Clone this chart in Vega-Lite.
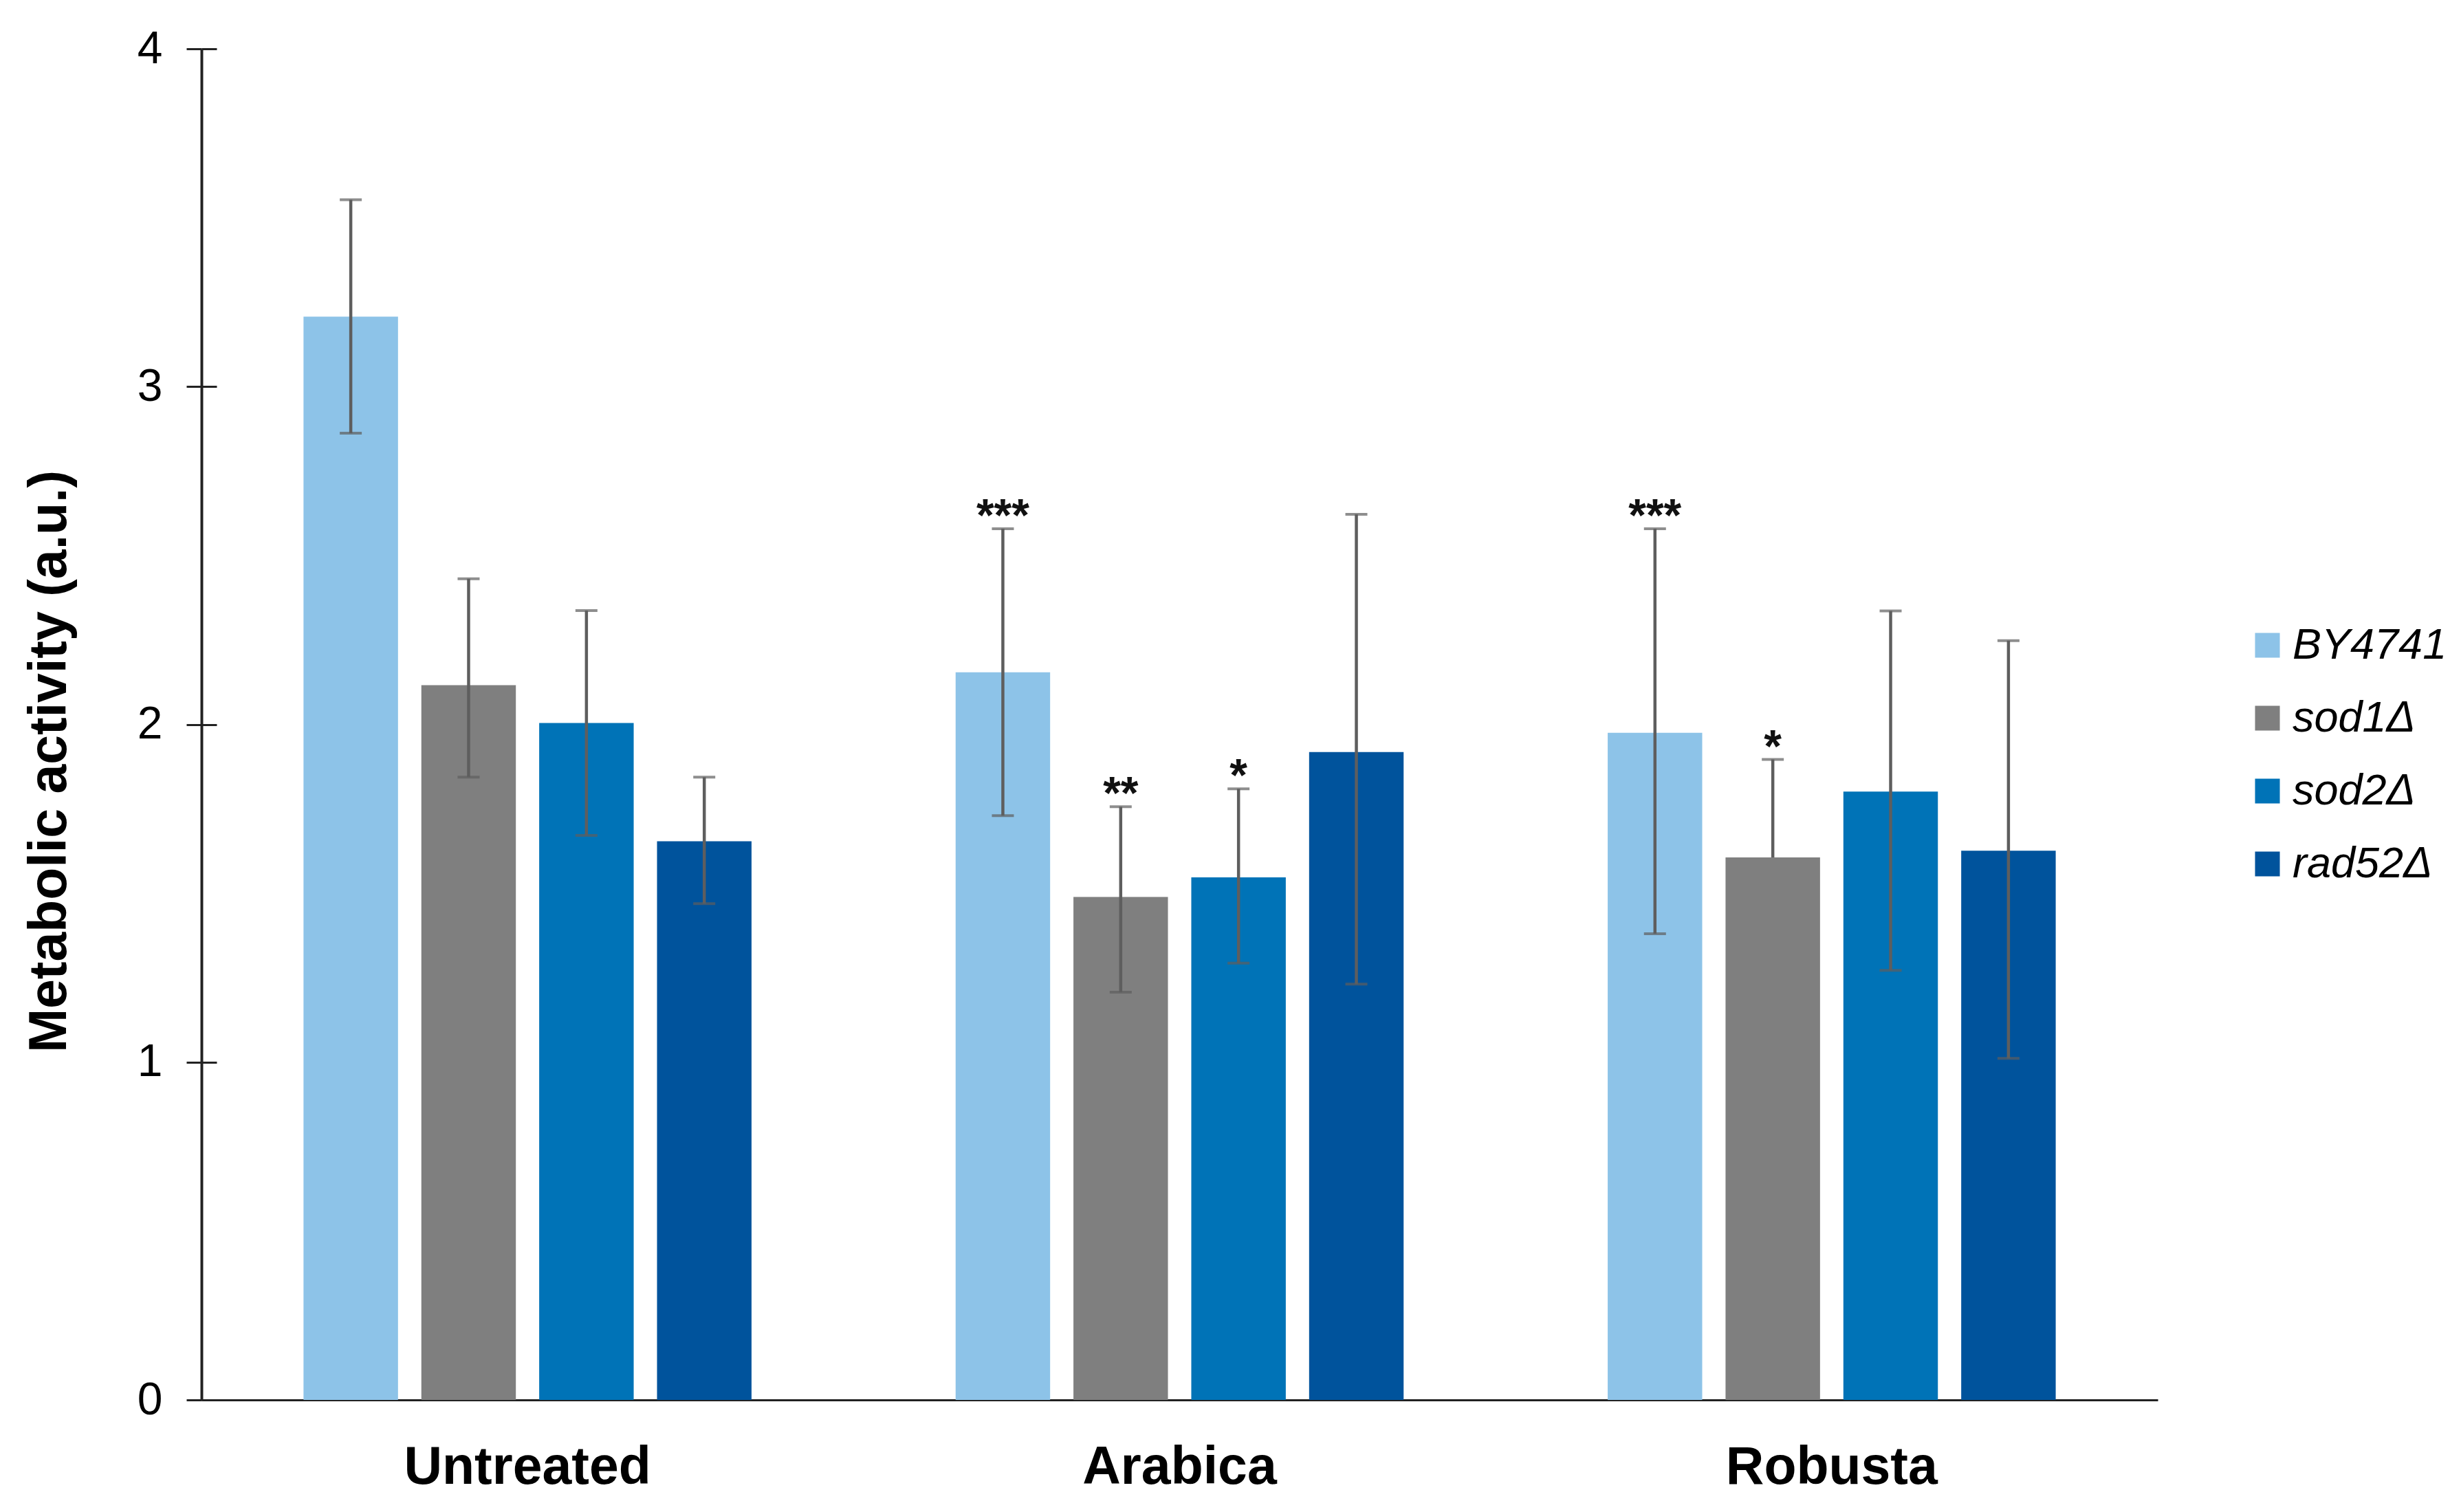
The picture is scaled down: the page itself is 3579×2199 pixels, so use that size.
{
  "$schema": "https://vega.github.io/schema/vega-lite/v6.json",
  "width": 2845,
  "height": 1965,
  "autosize": {"type": "none"},
  "padding": {"left": 293, "top": 71, "right": 441, "bottom": 163},
  "background": "white",
  "config": {
    "font": "Liberation Sans",
    "view": {"stroke": null}
  },
  "data": {
    "values": [
      {"group": "Untreated", "strain": "BY4741", "mean": 3.207, "low": 2.862, "lowcap": 2.862, "high": 3.553, "star": ""},
      {"group": "Untreated", "strain": "sod1Δ", "mean": 2.116, "low": 1.844, "lowcap": 1.844, "high": 2.431, "star": ""},
      {"group": "Untreated", "strain": "sod2Δ", "mean": 2.004, "low": 1.671, "lowcap": 1.671, "high": 2.337, "star": ""},
      {"group": "Untreated", "strain": "rad52Δ", "mean": 1.654, "low": 1.469, "lowcap": 1.469, "high": 1.844, "star": ""},
      {"group": "Arabica", "strain": "BY4741", "mean": 2.154, "low": 1.730, "lowcap": 1.730, "high": 2.579, "star": "***"},
      {"group": "Arabica", "strain": "sod1Δ", "mean": 1.489, "low": 1.207, "lowcap": 1.207, "high": 1.756, "star": "**"},
      {"group": "Arabica", "strain": "sod2Δ", "mean": 1.547, "low": 1.293, "lowcap": 1.293, "high": 1.809, "star": "*"},
      {"group": "Arabica", "strain": "rad52Δ", "mean": 1.918, "low": 1.231, "lowcap": 1.231, "high": 2.622, "star": ""},
      {"group": "Robusta", "strain": "BY4741", "mean": 1.975, "low": 1.380, "lowcap": 1.380, "high": 2.579, "star": "***"},
      {"group": "Robusta", "strain": "sod1Δ", "mean": 1.606, "low": 1.606, "lowcap": null, "high": 1.896, "star": "*"},
      {"group": "Robusta", "strain": "sod2Δ", "mean": 1.801, "low": 1.272, "lowcap": 1.272, "high": 2.336, "star": ""},
      {"group": "Robusta", "strain": "rad52Δ", "mean": 1.626, "low": 1.011, "lowcap": 1.011, "high": 2.248, "star": ""}
    ]
  },
  "encoding": {
    "x": {
      "field": "group",
      "type": "nominal",
      "sort": ["Untreated", "Arabica", "Robusta"],
      "scale": {"paddingInner": 0, "paddingOuter": 0},
      "axis": {
        "title": null,
        "labelAngle": 0,
        "labelFont": "Liberation Sans",
        "labelFontSize": 77,
        "labelFontWeight": "bold",
        "labelColor": "#000000",
        "labelPadding": 60,
        "labelBaseline": "top",
        "labelLimit": 0,
        "ticks": false,
        "domainColor": "#222222",
        "domainWidth": 3
      }
    },
    "xOffset": {
      "field": "strain",
      "type": "nominal",
      "sort": ["BY4741", "sod1Δ", "sod2Δ", "rad52Δ"],
      "scale": {"paddingInner": 0.198, "paddingOuter": 0.866}
    }
  },
  "resolve": {"axis": {"y": "independent"}},
  "layer": [
    {
      "mark": {"type": "bar"},
      "encoding": {
        "y": {
          "field": "mean",
          "type": "quantitative",
          "scale": {"domain": [0, 4], "nice": false, "zero": true},
          "axis": {
            "orient": "left",
            "title": "Metabolic activity (a.u.)",
            "titleFont": "Liberation Sans",
            "titleFontSize": 77,
            "titleFontWeight": "bold",
            "titleColor": "#000000",
            "titleAngle": -90,
            "titleX": -221,
            "titleY": 1036,
            "titleAlign": "center",
            "titleBaseline": "middle",
            "values": [0, 1, 2, 3, 4],
            "format": "d",
            "labelFontSize": 66,
            "labelColor": "#000000",
            "labelPadding": 35,
            "tickSize": 22,
            "tickWidth": 3,
            "tickColor": "#222222",
            "domainColor": "#222222",
            "domainWidth": 4,
            "grid": false
          }
        },
        "color": {
          "field": "strain",
          "type": "nominal",
          "sort": ["BY4741", "sod1Δ", "sod2Δ", "rad52Δ"],
          "scale": {
            "domain": ["BY4741", "sod1Δ", "sod2Δ", "rad52Δ"],
            "range": ["#8DC3E8", "#7F7F7F", "#0073B7", "#00539C"]
          },
          "legend": {
            "title": null,
            "orient": "none",
            "legendX": 2973,
            "legendY": 836,
            "symbolType": "square",
            "symbolSize": 1300,
            "symbolStrokeWidth": 0,
            "labelFontSize": 63,
            "labelFontStyle": "italic",
            "labelColor": "#000000",
            "labelOffset": 5,
            "labelLimit": 0,
            "rowPadding": 42
          }
        }
      }
    },
    {
      "mark": {"type": "rule", "color": "#5E5E5E", "strokeWidth": 4.5},
      "encoding": {
        "y": {
          "field": "low",
          "type": "quantitative",
          "axis": {
            "orient": "left",
            "title": null,
            "values": [0, 1, 2, 3, 4],
            "labels": false,
            "domain": false,
            "grid": false,
            "tickSize": -22,
            "tickWidth": 3,
            "tickColor": "#222222"
          }
        },
        "y2": {"field": "high"}
      }
    },
    {
      "mark": {"type": "tick", "color": "#5E5E5E", "size": 32, "thickness": 4, "orient": "horizontal"},
      "encoding": {
        "y": {"field": "high", "type": "quantitative", "axis": null}
      }
    },
    {
      "mark": {"type": "tick", "color": "#5E5E5E", "size": 32, "thickness": 4, "orient": "horizontal"},
      "encoding": {
        "y": {"field": "lowcap", "type": "quantitative", "axis": null}
      }
    },
    {
      "mark": {"type": "text", "fontSize": 66, "fontWeight": "bold", "font": "Liberation Sans", "color": "#111111", "baseline": "alphabetic", "dy": 3},
      "encoding": {
        "y": {"field": "high", "type": "quantitative", "axis": null},
        "text": {"field": "star"}
      }
    }
  ]
}
